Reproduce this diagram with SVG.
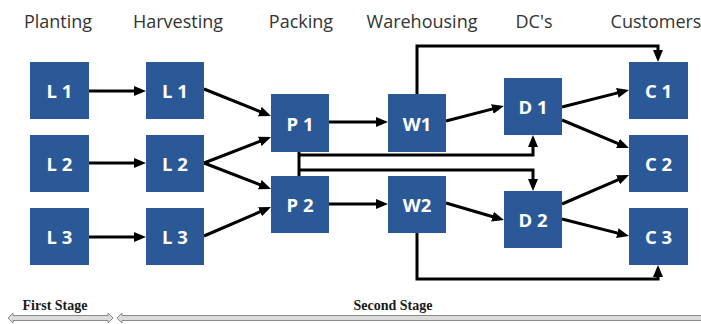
<svg xmlns="http://www.w3.org/2000/svg" width="701" height="324" viewBox="0 0 701 324">
  <style>
    .box { fill: #2B5896; }
    .lbl { fill: #ffffff; font-family: "Open Sans", "Liberation Sans", sans-serif; font-weight: 700; font-size: 18.5px; text-anchor: middle; dominant-baseline: central; }
    .head { fill: #333333; font-family: "Open Sans", "Liberation Sans", sans-serif; font-size: 18px; text-anchor: middle; }
    .stage { fill: #1a1a1a; font-family: "Liberation Serif", serif; font-weight: 700; font-size: 14px; text-anchor: middle; }
    .edge { fill: none; stroke: #000; stroke-width: 3; marker-end: url(#arr); }
    .plain { fill: none; stroke: #000; stroke-width: 3; }
    .band { fill: #dcdcdc; stroke: #8a8a8a; stroke-width: 1; }
  </style>
  <defs>
    <marker id="arr" markerUnits="userSpaceOnUse" markerWidth="13" markerHeight="11" refX="7.5" refY="5.5" orient="auto">
      <path d="M0,0.5 L12,5.5 L0,10.5 z" fill="#000"/>
    </marker>
  </defs>

  <rect width="701" height="324" fill="#ffffff"/>

  <!-- column headings -->
  <g id="headings">
    <text class="head" x="58" y="28">Planting</text>
    <text class="head" x="178" y="28">Harvesting</text>
    <text class="head" x="301" y="28">Packing</text>
    <text class="head" x="422" y="28">Warehousing</text>
    <text class="head" x="534" y="28">DC's</text>
    <text class="head" x="656" y="28">Customers</text>
  </g>

  <!-- connectors -->
  <g id="connectors">
    <path class="edge" d="M89,91 L141.5,91"/>
    <path class="edge" d="M89,163 L141.5,163"/>
    <path class="edge" d="M89,237 L141.5,237"/>

    <path class="edge" d="M204,89 L266.8,114.3"/>
    <path class="edge" d="M204,163 L266.8,138.6"/>
    <path class="edge" d="M204,163 L266.8,187.4"/>
    <path class="edge" d="M204,236 L266.9,208.8"/>

    <path class="edge" d="M329,122 L383.5,122"/>
    <path class="edge" d="M329,204 L383.5,204"/>

    <path class="plain" d="M299,152 L299,176"/>
    <path class="edge" d="M299,155 L533,155 L533,139.5"/>
    <path class="edge" d="M299,170 L533,170 L533,186.5"/>

    <path class="edge" d="M446,121 L499.6,107.1"/>
    <path class="edge" d="M446,203 L499.7,218.8"/>

    <path class="edge" d="M417,94 L417,46 L658,46 L658,57.5"/>
    <path class="edge" d="M417,233 L417,279 L658,279 L658,269.5"/>

    <path class="edge" d="M562,107 L624.6,91.1"/>
    <path class="edge" d="M562,120 L624.8,146.3"/>
    <path class="edge" d="M562,204 L624.9,176.8"/>
    <path class="edge" d="M562,219 L624.6,234.9"/>
  </g>

  <!-- planting -->
  <g id="plant-l1"><rect class="box" x="30" y="62" width="59" height="57"/><text class="lbl" x="59.5" y="90.5">L 1</text></g>
  <g id="plant-l2"><rect class="box" x="30" y="135" width="59" height="57"/><text class="lbl" x="59.5" y="163.5">L 2</text></g>
  <g id="plant-l3"><rect class="box" x="30" y="208" width="59" height="57"/><text class="lbl" x="59.5" y="236.5">L 3</text></g>

  <!-- harvesting -->
  <g id="harv-l1"><rect class="box" x="146" y="62" width="58" height="57"/><text class="lbl" x="175" y="90.5">L 1</text></g>
  <g id="harv-l2"><rect class="box" x="146" y="135" width="58" height="57"/><text class="lbl" x="175" y="163.5">L 2</text></g>
  <g id="harv-l3"><rect class="box" x="146" y="208" width="58" height="57"/><text class="lbl" x="175" y="236.5">L 3</text></g>

  <!-- packing -->
  <g id="pack-p1"><rect class="box" x="271" y="94" width="58" height="58"/><text class="lbl" x="300" y="123">P 1</text></g>
  <g id="pack-p2"><rect class="box" x="271" y="176" width="58" height="57"/><text class="lbl" x="300" y="204.5">P 2</text></g>

  <!-- warehousing -->
  <g id="ware-w1"><rect class="box" x="388" y="94" width="58" height="58"/><text class="lbl" x="417" y="123">W1</text></g>
  <g id="ware-w2"><rect class="box" x="388" y="176" width="58" height="57"/><text class="lbl" x="417" y="204.5">W2</text></g>

  <!-- distribution centres -->
  <g id="dc-d1"><rect class="box" x="504" y="78" width="58" height="57"/><text class="lbl" x="533" y="106.5">D 1</text></g>
  <g id="dc-d2"><rect class="box" x="504" y="191" width="58" height="57"/><text class="lbl" x="533" y="219.5">D 2</text></g>

  <!-- customers -->
  <g id="cust-c1"><rect class="box" x="629" y="62" width="59" height="57"/><text class="lbl" x="658.5" y="90.5">C 1</text></g>
  <g id="cust-c2"><rect class="box" x="629" y="135" width="59" height="57"/><text class="lbl" x="658.5" y="163.5">C 2</text></g>
  <g id="cust-c3"><rect class="box" x="629" y="208" width="59" height="57"/><text class="lbl" x="658.5" y="236.5">C 3</text></g>

  <!-- stage bars -->
  <g id="stages">
    <text class="stage" x="55" y="310">First Stage</text>
    <text class="stage" x="393" y="310">Second Stage</text>
    <path class="band" d="M8,318 L13,313 L13,315.5 L108,315.5 L108,313 L113,318 L108,323 L108,320.5 L13,320.5 L13,323 Z"/>
    <path class="band" d="M117,318 L122,313 L122,315.5 L706,315.5 L706,320.5 L122,320.5 L122,323 Z"/>
  </g>
</svg>
